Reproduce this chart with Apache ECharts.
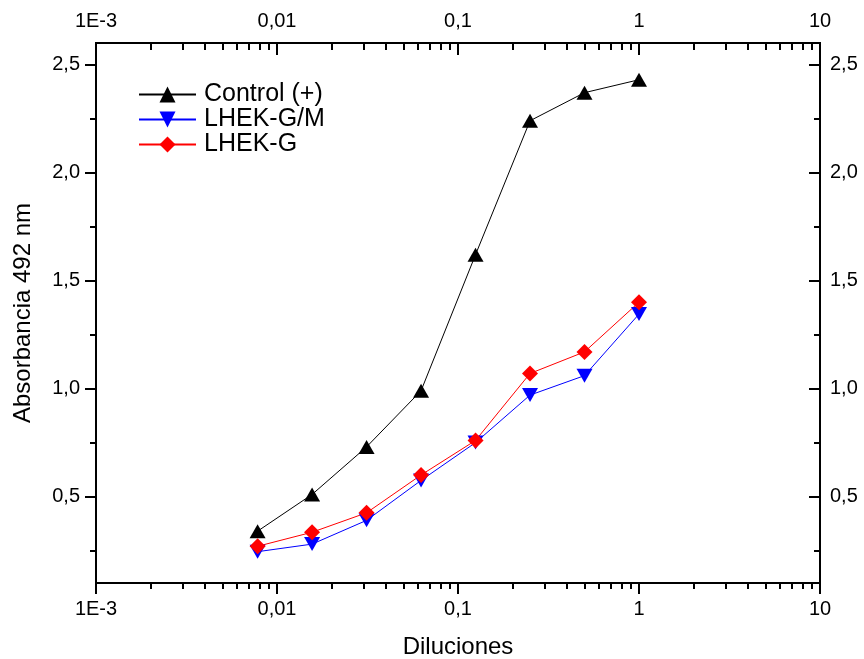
<!DOCTYPE html>
<html>
<head>
<meta charset="utf-8">
<style>
  html, body { margin: 0; padding: 0; background: #fff; }
  #chart { width: 864px; height: 659px; }
</style>
<script src="https://cdn.jsdelivr.net/npm/echarts@6/dist/echarts.min.js"></script>
</head>
<body>
<div id="chart"></div>
<script>
// dilutions (x) and absorbance readings
const dilutions = [0.0078125, 0.015625, 0.03125, 0.0625, 0.125, 0.25, 0.5, 1];
const control = [0.34, 0.51, 0.73, 0.99, 1.62, 2.24, 2.37, 2.43];
const lhekGM = [0.245, 0.28, 0.39, 0.575, 0.75, 0.97, 1.06, 1.345];
const lhekG = [0.27, 0.335, 0.425, 0.60, 0.76, 1.07, 1.17, 1.40];

const xMajor = [0.001, 0.01, 0.1, 1, 10];
const yMajor = [0.5, 1.0, 1.5, 2.0, 2.5];
const yMinor = [0.25, 0.75, 1.25, 1.75, 2.25];

// minor log ticks 2..9 inside each decade
const xMinor = [];
xMajor.slice(0, -1).forEach(d => {
  for (let k = 2; k <= 9; k++) xMinor.push(+(d * k).toPrecision(6));
});

const FONT = 'Liberation Sans';
const axisLine = { show: true, lineStyle: { color: '#000', width: 2 } };

function xLabel(v) {
  const e = Math.round(Math.log10(v));
  if (e <= -3) return '1E' + e;
  if (e < 0) return Math.pow(10, e).toFixed(-e).replace('.', ',');
  return String(Math.round(Math.pow(10, e)));
}
const yLabel = v => v.toFixed(1).replace('.', ',');

function xAxisDef(position, ticks, len, inside, showLabel, extra) {
  return Object.assign({
    type: 'log', logBase: 10, min: 0.001, max: 10, position: position,
    axisLine: axisLine,
    splitLine: { show: false },
    axisTick: { show: true, inside: inside, length: len, customValues: ticks,
      lineStyle: { color: '#000', width: 2 } },
    axisLabel: { show: showLabel, customValues: xMajor, formatter: xLabel,
      color: '#000', fontFamily: FONT, fontSize: 20, margin: position === 'top' ? 12 : 16 }
  }, extra || {});
}

function yAxisDef(position, ticks, len, inside, showLabel, extra) {
  return Object.assign({
    type: 'value', min: 0.1, max: 2.6, position: position,
    axisLine: axisLine,
    splitLine: { show: false },
    axisTick: { show: true, inside: inside, length: len, customValues: ticks,
      lineStyle: { color: '#000', width: 2 } },
    axisLabel: { show: showLabel, customValues: yMajor, formatter: yLabel,
      color: '#000', fontFamily: FONT, fontSize: 20, margin: position === 'left' ? 16 : 10 }
  }, extra || {});
}

const chart = echarts.init(document.getElementById('chart'), null, { renderer: 'canvas' });

chart.setOption({
  animation: false,
  backgroundColor: '#fff',
  grid: { left: 96, right: 44, top: 43, bottom: 76, containLabel: false, outerBoundsMode: 'none' },
  legend: {
    orient: 'vertical',
    left: 138, top: 82, padding: 0,
    itemWidth: 57, itemHeight: 20, itemGap: 0,
    textStyle: { fontFamily: FONT, fontSize: 25, color: '#000', padding: [0, 0, 0, 3] },
    data: ['Control (+)', 'LHEK-G/M', 'LHEK-G']
  },
  xAxis: [
    xAxisDef('bottom', xMajor, 11, false, true, {
      name: 'Diluciones', nameLocation: 'middle', nameGap: 52,
      nameTextStyle: { fontFamily: FONT, fontSize: 24, color: '#000' }
    }),
    xAxisDef('bottom', xMinor, 6, false, false),
    xAxisDef('top', xMajor, 12, true, true),
    xAxisDef('top', xMinor, 7, true, false)
  ],
  yAxis: [
    yAxisDef('left', yMajor, 11, false, true, {
      name: 'Absorbancia 492 nm', nameLocation: 'middle', nameGap: 61,
      nameTextStyle: { fontFamily: FONT, fontSize: 24, color: '#000' }
    }),
    yAxisDef('left', yMinor, 6, false, false),
    yAxisDef('right', yMajor, 11, true, true),
    yAxisDef('right', yMinor, 6, true, false)
  ],
  series: [
    {
      name: 'Control (+)', type: 'line',
      data: dilutions.map((d, i) => [d, control[i]]),
      symbol: 'triangle', symbolSize: [16, 14],
      itemStyle: { color: '#000' },
      lineStyle: { color: '#000', width: 1 }
    },
    {
      name: 'LHEK-G/M', type: 'line',
      data: dilutions.map((d, i) => [d, lhekGM[i]]),
      symbol: 'triangle', symbolRotate: 180, symbolSize: [16, 14],
      itemStyle: { color: '#0000ff' },
      lineStyle: { color: '#0000ff', width: 1 }
    },
    {
      name: 'LHEK-G', type: 'line',
      data: dilutions.map((d, i) => [d, lhekG[i]]),
      symbol: 'diamond', symbolSize: 16,
      itemStyle: { color: '#ff0000' },
      lineStyle: { color: '#ff0000', width: 1 }
    }
  ]
});
</script>
</body>
</html>
